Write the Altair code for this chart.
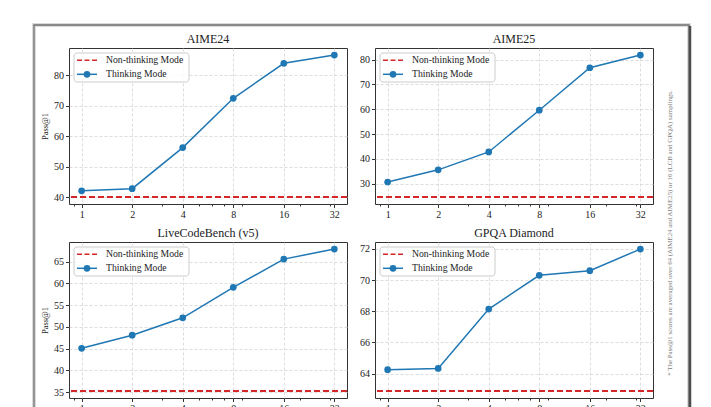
import altair as alt
import pandas as pd

FONT = "Liberation Serif"
BLUE = "#1f77b4"
RED = "#d62728"

# ---------------- data ----------------
budgets = [1, 2, 4, 8, 16, 32]
titles = ["AIME24", "AIME25", "LiveCodeBench (v5)", "GPQA Diamond"]
aime24 = [42.1, 42.8, 56.3, 72.5, 84.0, 86.7]
aime25 = [30.7, 35.6, 42.8, 59.6, 76.7, 81.8]
lcb = [45.1, 48.1, 52.1, 59.1, 65.6, 67.9]
gpqa = [64.26, 64.34, 68.14, 70.3, 70.6, 71.98]
non_thinking = [40.1, 24.7, 35.3, 62.9]
yticks = [
    [40, 50, 60, 70, 80],
    [30, 40, 50, 60, 70, 80],
    [35, 40, 45, 50, 55, 60, 65],
    [64, 66, 68, 70, 72],
]
major_x = [1, 2, 4, 8, 16, 32]
minor_x = [0.9, 3, 5, 6, 7, 9, 20, 30]
series_names = ["Non-thinking Mode", "Thinking Mode"]
y_title = "Pass@1"
footnote = ["* The Pass@1 scores are averaged over 64 (AIME24 and AIME25) or 16 (LCB and GPQA) samplings."]
thinking = [aime24, aime25, lcb, gpqa]

W, H = 278, 156
one = pd.DataFrame({"k": [0]})


def legend_layers():
    box = alt.Chart(one).mark_rect(
        fill="white", fillOpacity=0.85, stroke="#cccccc", strokeWidth=1, cornerRadius=3
    ).encode(x=alt.value(5), x2=alt.value(120), y=alt.value(5), y2=alt.value(34))
    s1 = alt.Chart(one).mark_rule(color=RED, strokeDash=[5, 2.5], strokeWidth=1.6).encode(
        x=alt.value(8), x2=alt.value(28), y=alt.value(12.3)
    )
    s2 = alt.Chart(one).mark_rule(color=BLUE, strokeWidth=1.5).encode(
        x=alt.value(8), x2=alt.value(28), y=alt.value(26.3)
    )
    s2p = alt.Chart(one).mark_circle(color=BLUE, size=45, opacity=1).encode(
        x=alt.value(18), y=alt.value(26.3)
    )
    t1 = alt.Chart(pd.DataFrame({"label": [series_names[0]]})).mark_text(
        align="left", baseline="middle", font=FONT, fontSize=9.7, color="#222222"
    ).encode(x=alt.value(37), y=alt.value(12.3), text="label:N")
    t2 = alt.Chart(pd.DataFrame({"label": [series_names[1]]})).mark_text(
        align="left", baseline="middle", font=FONT, fontSize=9.7, color="#222222"
    ).encode(x=alt.value(37), y=alt.value(26.3), text="label:N")
    return [box, s1, s2, s2p, t1, t2]


def frame_layers():
    soft = alt.Chart(one).mark_rect(filled=False, stroke="#dadada", strokeWidth=4).encode(
        x=alt.value(-35), x2=alt.value(620), y=alt.value(-23), y2=alt.value(440)
    )
    edge = alt.Chart(one).mark_rect(filled=False, stroke="#707070", strokeWidth=1.3).encode(
        x=alt.value(-35), x2=alt.value(620), y=alt.value(-23), y2=alt.value(440)
    )
    right = alt.Chart(one).mark_rule(color="#4d4d4d", strokeWidth=2.5).encode(
        x=alt.value(621), y=alt.value(-22), y2=alt.value(440)
    )
    note = alt.Chart(pd.DataFrame({"t": footnote})).mark_text(
        angle=270, align="center", baseline="middle", font=FONT, fontSize=6.9, color="#7a7a7a"
    ).encode(x=alt.value(601), y=alt.value(185), text="t:N")
    return [soft, edge, right, note]


def panel(i):
    vals = thinking[i] + [non_thinking[i]]
    lo, hi = min(vals), max(vals)
    pad = 0.05 * (hi - lo)
    xs = alt.Scale(type="log", domain=[0.841, 38.06], nice=False)
    ys = alt.Scale(domain=[lo - pad, hi + pad], nice=False, zero=False)
    df = pd.DataFrame({"budget": budgets, "score": thinking[i]})

    xax = alt.Axis(values=major_x, title=None, format="d", grid=True, tickSize=3.5,
                   labelPadding=2, domain=False, orient="bottom")
    yargs = dict(values=yticks[i], format="d", grid=True, tickSize=3.5, labelPadding=2,
                 domain=False, titlePadding=4)
    if i % 2 == 0:
        yax = alt.Axis(title=y_title, **yargs)
    else:
        yax = alt.Axis(title=None, **yargs)

    minor = alt.Chart(pd.DataFrame({"m": minor_x})).mark_point(opacity=0).encode(
        x=alt.X("m:Q", scale=xs,
                axis=alt.Axis(values=minor_x, labels=False, grid=False, tickSize=2,
                              domain=False, orient="bottom", title=None))
    )
    rule = alt.Chart(pd.DataFrame({"score": [non_thinking[i]]})).mark_rule(
        color=RED, strokeDash=[6, 3], strokeWidth=2
    ).encode(y=alt.Y("score:Q", scale=ys, axis=yax))
    line = alt.Chart(df).mark_line(color=BLUE, strokeWidth=1.5).encode(
        x=alt.X("budget:Q", scale=xs, axis=xax),
        y=alt.Y("score:Q", scale=ys, axis=yax),
    )
    pts = alt.Chart(df).mark_circle(color=BLUE, size=45, opacity=1).encode(
        x=alt.X("budget:Q", scale=xs, axis=None),
        y=alt.Y("score:Q", scale=ys, axis=yax),
    )
    title = alt.Chart(pd.DataFrame({"t": [titles[i]]})).mark_text(
        align="center", baseline="middle", font=FONT, fontSize=12, color="#222222"
    ).encode(x=alt.value(W / 2), y=alt.value(-9), text="t:N")
    layers = []
    if i == 0:
        layers += frame_layers()
    layers += [line, minor, rule, pts, title] + legend_layers()
    return alt.layer(*layers).resolve_axis(x="independent").properties(width=W, height=H)


chart = alt.concat(
    *[panel(i) for i in range(4)],
    columns=2,
    spacing={"row": 38, "column": 28},
    bounds="flush",
).properties(
    padding={"left": 23, "top": 14, "right": 4, "bottom": 4}
).configure_axis(
    labelFont=FONT, labelFontSize=10, labelColor="#222222",
    titleFont=FONT, titleFontSize=8.5, titleFontWeight="normal", titleColor="#222222",
    tickColor="#333333", gridColor="#d4d4d4", gridDash=[3, 2], gridWidth=0.8,
).configure_view(
    stroke="#333333", strokeWidth=1
)

chart.save("out.html", embed_options={"renderer": "svg", "actions": False})
